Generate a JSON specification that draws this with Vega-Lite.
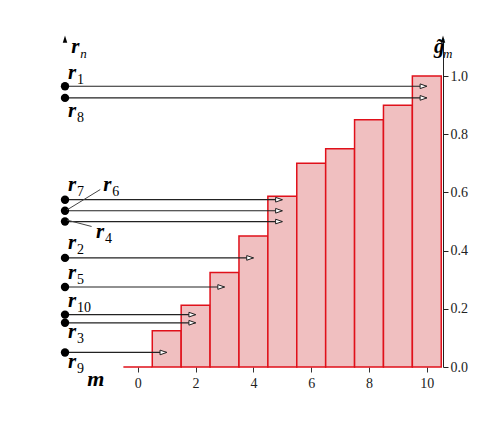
{
"$schema":"https://vega.github.io/schema/vega-lite/v6.json",
"width":378,"height":327,"autosize":"none",
"padding":{"left":65,"top":40,"right":61,"bottom":67},
"config":{"view":{"stroke":null},"font":"Liberation Serif"},
"datasets":{
"bars":[{"m":0,"g":0},{"m":1,"g":0.125},{"m":2,"g":0.212},{"m":3,"g":0.325},{"m":4,"g":0.45},{"m":5,"g":0.587},{"m":6,"g":0.70},{"m":7,"g":0.75},{"m":8,"g":0.85},{"m":9,"g":0.90},{"m":10,"g":1.0}],
"r":[{"n":"1","r":0.965,"m":10,"a":-2.52},{"n":"8","r":0.925,"m":10,"a":-2.52},{"n":"7","r":0.575,"m":5,"a":-2.52},{"n":"6","r":0.537,"m":5,"a":-2.52},{"n":"4","r":0.50,"m":5,"a":-2.52},{"n":"2","r":0.375,"m":4,"a":-2.52},{"n":"5","r":0.275,"m":3,"a":-2.52},{"n":"10","r":0.18,"m":2,"a":-2.52},{"n":"3","r":0.152,"m":2,"a":-2.52},{"n":"9","r":0.05,"m":1,"a":-2.52}],
"labels":[{"n":"1","lx":-2.42,"ly":0.99},{"n":"8","lx":-2.42,"ly":0.86},{"n":"7","lx":-2.42,"ly":0.605},{"n":"6","lx":-1.2,"ly":0.605},{"n":"4","lx":-1.45,"ly":0.442},{"n":"2","lx":-2.42,"ly":0.405},{"n":"5","lx":-2.42,"ly":0.302},{"n":"10","lx":-2.42,"ly":0.207},{"n":"3","lx":-2.42,"ly":0.1},{"n":"9","lx":-2.42,"ly":-0.005}],
"leaders":[{"x1":-1.3,"y1":0.61,"x2":-2.45,"y2":0.54},{"x1":-1.6,"y1":0.483,"x2":-2.45,"y2":0.505}]
},
"layer":[
{"data":{"name":"bars"},"mark":{"type":"rect","fill":"#f0bfc0","stroke":"#e0101a","strokeWidth":1.5},
 "transform":[{"calculate":"datum.m-0.5","as":"x0"},{"calculate":"datum.m+0.5","as":"x1"},{"calculate":"0","as":"y0"}],
 "encoding":{"x":{"field":"x0","type":"quantitative","scale":{"domain":[-2.52,10.56],"nice":false,"zero":false},
   "axis":{"values":[0,1,2,3,4,5,6,7,8,9,10],"domain":false,"grid":false,"title":null,"tickSize":5,"tickColor":"#333","labelFontSize":14,"labelColor":"#222","labelPadding":4,"labelFont":"Liberation Serif"}},
  "x2":{"field":"x1"},
  "y":{"field":"y0","type":"quantitative","scale":{"domain":[0,1.124],"nice":false},
   "axis":{"values":[0,0.1,0.2,0.3,0.4,0.5,0.6,0.7,0.8,0.9,1.0],"format":".1f","grid":false,"title":null,"domainColor":"#222","tickColor":"#222","tickSize":5,"labelFontSize":14,"labelColor":"#222","labelFont":"Liberation Serif"}},
  "y2":{"field":"g"}}},
{"data":{"values":[{"v":0}]},"mark":{"type":"rule","opacity":0},"encoding":{"y":{"field":"v","type":"quantitative",
  "axis":{"orient":"right","values":[0,0.1,0.2,0.3,0.4,0.5,0.6,0.7,0.8,0.9,1.0],"format":".1f","grid":false,"title":null,"domainColor":"#222","tickColor":"#222","tickSize":5,"labelFontSize":14,"labelColor":"#222","labelFont":"Liberation Serif"}}}},
{"data":{"name":"r"},"mark":{"type":"rule","color":"#222","strokeWidth":1.2},
 "encoding":{"x":{"field":"a","type":"quantitative"},"x2":{"field":"m"},"y":{"field":"r","type":"quantitative"}}},
{"data":{"name":"r"},"mark":{"type":"point","shape":"M-1,-0.35L0,0L-1,0.35Z","size":180,"filled":true,"fill":"white","stroke":"#222","strokeWidth":1,"opacity":1},
 "encoding":{"x":{"field":"m","type":"quantitative"},"y":{"field":"r","type":"quantitative"}}},
{"data":{"name":"r"},"mark":{"type":"circle","color":"black","size":70,"opacity":1,"clip":false},
 "encoding":{"x":{"field":"a","type":"quantitative"},"y":{"field":"r","type":"quantitative"}}},
{"data":{"name":"leaders"},"mark":{"type":"rule","color":"#444","strokeWidth":1},
 "encoding":{"x":{"field":"x1","type":"quantitative"},"x2":{"field":"x2"},"y":{"field":"y1","type":"quantitative"},"y2":{"field":"y2"}}},
{"data":{"name":"labels"},"mark":{"type":"text","text":"r","fontStyle":"italic","fontWeight":"bold","fontSize":21,"align":"left","baseline":"alphabetic","font":"Liberation Serif"},
 "encoding":{"x":{"field":"lx","type":"quantitative"},"y":{"field":"ly","type":"quantitative"}}},
{"data":{"name":"labels"},"mark":{"type":"text","fontSize":14,"align":"left","baseline":"alphabetic","dx":9,"dy":5,"font":"Liberation Serif"},
 "encoding":{"x":{"field":"lx","type":"quantitative"},"y":{"field":"ly","type":"quantitative"},"text":{"field":"n"}}},
{"data":{"values":[{"x":-2.52,"y":1.124},{"x":10.56,"y":1.124}]},"mark":{"type":"point","shape":"M-0.5,0.6L0,-1L0.5,0.6Z","size":80,"filled":true,"color":"black","opacity":1,"clip":false},
 "encoding":{"x":{"field":"x","type":"quantitative"},"y":{"field":"y","type":"quantitative"}}},
{"data":{"values":[{"x":-2.3,"y":1.08,"t":"r"},{"x":10.25,"y":1.08,"t":"g̃"}]},"mark":{"type":"text","fontStyle":"italic","fontWeight":"bold","fontSize":21,"align":"left","baseline":"alphabetic","font":"Liberation Serif"},
 "encoding":{"x":{"field":"x","type":"quantitative"},"y":{"field":"y","type":"quantitative"},"text":{"field":"t"}}},
{"data":{"values":[{"x":-2.3,"y":1.08,"t":"n"},{"x":10.25,"y":1.08,"t":"m"}]},"mark":{"type":"text","fontStyle":"italic","fontSize":13,"align":"left","baseline":"alphabetic","dx":9,"dy":5,"font":"Liberation Serif"},
 "encoding":{"x":{"field":"x","type":"quantitative"},"y":{"field":"y","type":"quantitative"},"text":{"field":"t"}}},
{"data":{"values":[{"x":-1.45,"y":-0.065,"t":"m"}]},"mark":{"type":"text","fontStyle":"italic","fontWeight":"bold","fontSize":22,"align":"center","baseline":"alphabetic","font":"Liberation Serif"},
 "encoding":{"x":{"field":"x","type":"quantitative"},"y":{"field":"y","type":"quantitative"},"text":{"field":"t"}}}
]
}
